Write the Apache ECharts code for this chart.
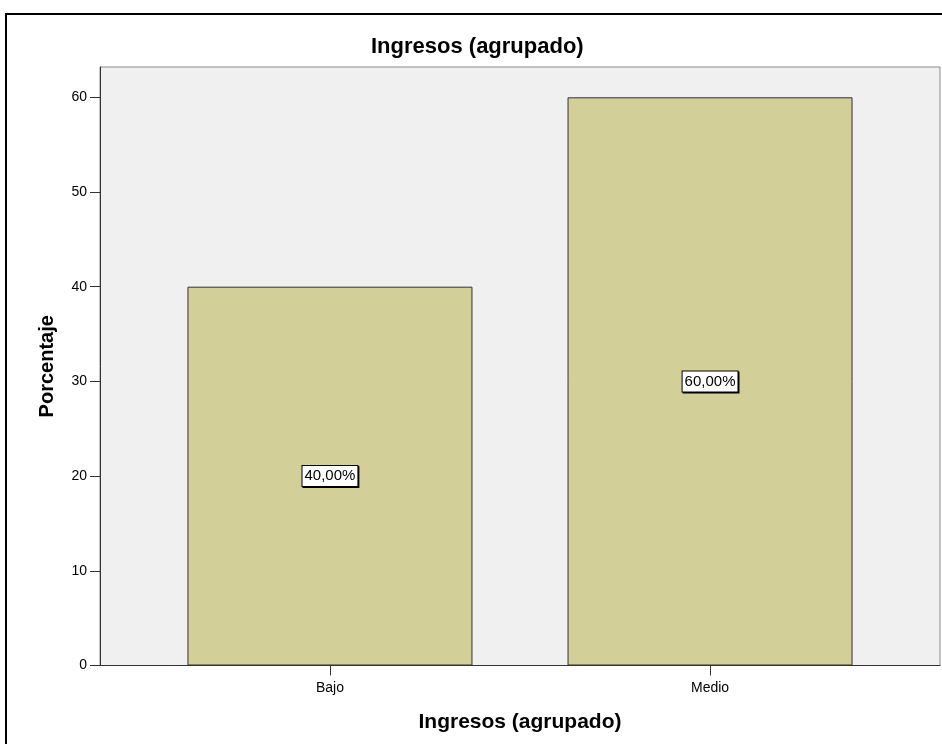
<!DOCTYPE html>
<html>
<head>
<meta charset="utf-8">
<script src="https://cdn.jsdelivr.net/npm/echarts@6/dist/echarts.min.js"></script>
<style>
html,body{margin:0;padding:0;background:#fff;}
#c{width:942px;height:744px;}
</style>
</head>
<body>
<div id="c"></div>
<script>
const categories = ['Bajo', 'Medio'];
const percentValues = [40, 60];
const percentLabels = ['40,00%', '60,00%'];
const yTicks = [0, 10, 20, 30, 40, 50, 60];

const chart = echarts.init(document.getElementById('c'), null, {renderer: 'canvas'});
const FONT = '"Liberation Sans", Arial, sans-serif';

chart.setOption({
  animation: false,
  backgroundColor: '#ffffff',
  textStyle: {fontFamily: FONT},
  title: {
    text: 'Ingresos (agrupado)',
    left: 371,
    top: 36,
    padding: 0,
    textStyle: {fontFamily: FONT, fontWeight: 'bold', fontSize: 22, color: '#000'}
  },
  graphic: [{
    type: 'rect',
    silent: true,
    shape: {x: 6, y: 14, width: 1200, height: 1200},
    style: {fill: 'none', stroke: '#000', lineWidth: 2},
    z: 100
  }],
  grid: {
    left: 100, right: 2, top: 67, bottom: 78.5,
    show: true, backgroundColor: '#f0f0f0', borderColor: '#8a8a8a', borderWidth: 1
  },
  xAxis: {
    type: 'value',
    min: -0.605, max: 1.605,
    splitLine: {show: false},
    axisLine: {show: true, onZero: false, lineStyle: {color: '#333', width: 1}},
    axisTick: {show: true, length: 10, customValues: [0, 1], lineStyle: {color: '#333'}},
    axisLabel: {
      customValues: [0, 1],
      formatter: v => categories[Math.round(v)] || '',
      color: '#000', fontSize: 14, fontFamily: FONT, margin: 16
    },
    name: 'Ingresos (agrupado)',
    nameLocation: 'middle',
    nameGap: 46,
    nameTextStyle: {fontFamily: FONT, fontWeight: 'bold', fontSize: 21, color: '#000'}
  },
  yAxis: {
    type: 'value',
    min: 0, max: 63.2, interval: 10,
    splitLine: {show: false},
    axisLine: {show: true, onZero: false, lineStyle: {color: '#333', width: 1}},
    axisTick: {show: true, length: 10, customValues: yTicks, lineStyle: {color: '#333'}},
    axisLabel: {customValues: yTicks, color: '#000', fontSize: 14, fontFamily: FONT, margin: 13},
    name: 'Porcentaje',
    nameLocation: 'middle',
    nameGap: 43,
    nameTextStyle: {fontFamily: FONT, fontWeight: 'bold', fontSize: 20, color: '#000'}
  },
  series: [{
    type: 'bar',
    data: percentValues.map((v, i) => [i, v]),
    barWidth: 285,
    itemStyle: {color: '#d3cf98', borderColor: '#333333', borderWidth: 1},
    label: {
      show: true,
      position: 'inside',
      formatter: p => percentLabels[p.dataIndex],
      color: '#000', fontSize: 15, fontFamily: FONT,
      backgroundColor: '#ffffff', borderColor: '#000', borderWidth: 1,
      padding: [3, 2, 2, 2],
      shadowColor: '#000', shadowOffsetX: 1, shadowOffsetY: 1, shadowBlur: 0
    }
  }]
});
</script>
</body>
</html>
